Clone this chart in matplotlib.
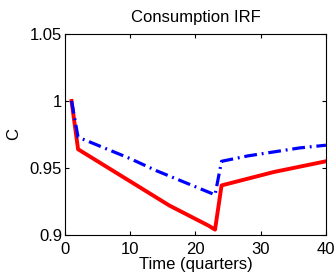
import matplotlib
matplotlib.use("Agg")
import matplotlib.pyplot as plt

plt.rcParams["font.family"] = ["Liberation Sans", "DejaVu Sans"]

# 四半期と消費のインパルス応答
quarters_red = [1, 2, 4, 6, 8, 10, 12, 14, 16, 18, 20, 22, 23, 24, 28, 32, 36, 40]
c_red = [1.000, 0.964, 0.958, 0.952, 0.946, 0.940, 0.934, 0.928, 0.922, 0.917,
         0.912, 0.907, 0.904, 0.937, 0.942, 0.947, 0.951, 0.955]
quarters_blue = [1, 2, 6, 10, 14, 18, 23, 24, 28, 32, 36, 40]
c_blue = [1.000, 0.973, 0.965, 0.957, 0.948, 0.940, 0.930, 0.955, 0.959, 0.962,
          0.965, 0.967]

xticks = [0, 10, 20, 30, 40]
yticks = [0.9, 0.95, 1.0, 1.05]
yticklabels = ["0.9", "0.95", "1", "1.05"]

fig = plt.figure(figsize=(3.36, 2.74), dpi=100)
ax = fig.add_axes([0.1935, 0.1423, 0.7765, 0.7337])

ax.plot(quarters_red, c_red, color="red", linestyle="-", linewidth=2.8)
ax.plot(quarters_blue, c_blue, color="blue", linestyle=(0, (4, 1.5, 0.6, 1.5)),
        linewidth=2.3)

ax.set_xlim(0, 40)
ax.set_ylim(0.9, 1.05)
ax.set_xticks(xticks)
ax.set_yticks(yticks)
ax.set_yticklabels(yticklabels)
ax.tick_params(direction="in", top=True, right=True, length=3, width=0.8,
               labelsize=12, pad=2)
ax.tick_params(axis="x", pad=5)
for s in ax.spines.values():
    s.set_linewidth(0.8)

ax.set_title("Consumption IRF", fontsize=12, pad=8.5)
ax.set_xlabel("Time (quarters)", fontsize=12, labelpad=0)
ax.set_ylabel("C", fontsize=12, labelpad=6)

fig.savefig("out.png", dpi=100)
